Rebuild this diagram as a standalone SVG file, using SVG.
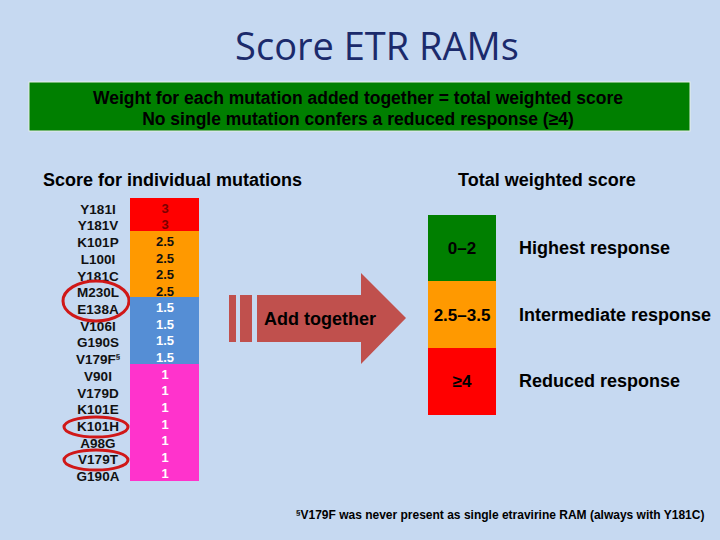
<svg xmlns="http://www.w3.org/2000/svg" width="720" height="540" viewBox="0 0 720 540">
<style>
.t{font-family:"Liberation Sans",Arial,sans-serif;font-weight:bold}
.m{font-size:13.5px;fill:#111;text-anchor:middle}
.s{font-size:13px;text-anchor:middle}
.h{font-size:18px;fill:#000}
.r{font-size:18px;fill:#000}
.c{fill:none;stroke:#d01818;stroke-width:3}
</style>
<rect width="720" height="540" fill="#c6d9f1"/>
<text x="377" y="60" text-anchor="middle" font-family="'Open Sans','Liberation Sans',sans-serif" font-size="38" fill="#1b2a6b">Score ETR RAMs</text>
<g id="banner">
<rect x="29" y="82" width="661" height="49" fill="#007f00" stroke="#e6f0e6" stroke-width="1"/>
<text class="t" x="358" y="104" text-anchor="middle" font-size="17.5" fill="#000">Weight for each mutation added together = total weighted score</text>
<text class="t" x="358" y="125" text-anchor="middle" font-size="17.5" fill="#000">No single mutation confers a reduced response (≥4)</text>
</g>
<text class="t h" x="43" y="186">Score for individual mutations</text>
<text class="t h" x="458" y="186">Total weighted score</text>
<g id="mutations">
<text class="t m" x="98" y="214">Y181I</text>
<text class="t m" x="98" y="230">Y181V</text>
<text class="t m" x="98" y="247">K101P</text>
<text class="t m" x="98" y="264">L100I</text>
<text class="t m" x="98" y="281">Y181C</text>
<text class="t m" x="98" y="297">M230L</text>
<text class="t m" x="98" y="314">E138A</text>
<text class="t m" x="98" y="331">V106I</text>
<text class="t m" x="98" y="347">G190S</text>
<text class="t m" x="98" y="364">V179F<tspan font-size="8" dy="-5">§</tspan></text>
<text class="t m" x="98" y="381">V90I</text>
<text class="t m" x="98" y="398">V179D</text>
<text class="t m" x="98" y="414">K101E</text>
<text class="t m" x="98" y="431">K101H</text>
<text class="t m" x="98" y="448">A98G</text>
<text class="t m" x="98" y="464">V179T</text>
<text class="t m" x="98" y="481">G190A</text>
<ellipse class="c" cx="96" cy="301" rx="33" ry="20"/>
<ellipse class="c" cx="96" cy="427" rx="32" ry="10"/>
<ellipse class="c" cx="96" cy="460" rx="32" ry="10"/>
</g>
<g id="scores">
<rect x="130" y="198" width="69" height="33" fill="#ff0000"/>
<rect x="130" y="231" width="69" height="66" fill="#ff9900"/>
<rect x="130" y="297" width="69" height="67" fill="#558ed5"/>
<rect x="130" y="364" width="69" height="117" fill="#ff33cc"/>
<g class="t s" fill="#7a0000"><text x="165" y="213">3</text><text x="165" y="229">3</text></g>
<g class="t s" fill="#111"><text x="165" y="246">2.5</text><text x="165" y="263">2.5</text><text x="165" y="279">2.5</text><text x="165" y="296">2.5</text></g>
<g class="t s" fill="#fff"><text x="165" y="312">1.5</text><text x="165" y="329">1.5</text><text x="165" y="345">1.5</text><text x="165" y="362">1.5</text>
<text x="165" y="379">1</text><text x="165" y="395">1</text><text x="165" y="412">1</text><text x="165" y="429">1</text><text x="165" y="445">1</text><text x="165" y="462">1</text><text x="165" y="478">1</text></g>
</g>
<g id="arrow">
<rect x="229" y="295" width="7" height="47" fill="#c0504d"/>
<rect x="240" y="295" width="12" height="47" fill="#c0504d"/>
<path d="M257 295H361V273L406 318L361 364V342H257Z" fill="#c0504d"/>
<text class="t" x="264" y="325" font-size="18" fill="#000">Add together</text>
</g>
<g id="total">
<rect x="428" y="215" width="68" height="66" fill="#007f00"/>
<rect x="428" y="281" width="68" height="67" fill="#ff9900"/>
<rect x="428" y="348" width="68" height="67" fill="#ff0000"/>
<text class="t" x="462" y="254" text-anchor="middle" font-size="17" fill="#000">0–2</text>
<text class="t" x="462" y="321" text-anchor="middle" font-size="17" fill="#000">2.5–3.5</text>
<text class="t" x="462" y="387" text-anchor="middle" font-size="17" fill="#000">≥4</text>
<text class="t r" x="519" y="254">Highest response</text>
<text class="t r" x="519" y="321">Intermediate response</text>
<text class="t r" x="519" y="387">Reduced response</text>
</g>
<text class="t" x="296" y="519" font-size="12" fill="#000"><tspan font-size="8" dy="-4">§</tspan><tspan dy="4">V179F was never present as single etravirine RAM (always with Y181C)</tspan></text>
</svg>
